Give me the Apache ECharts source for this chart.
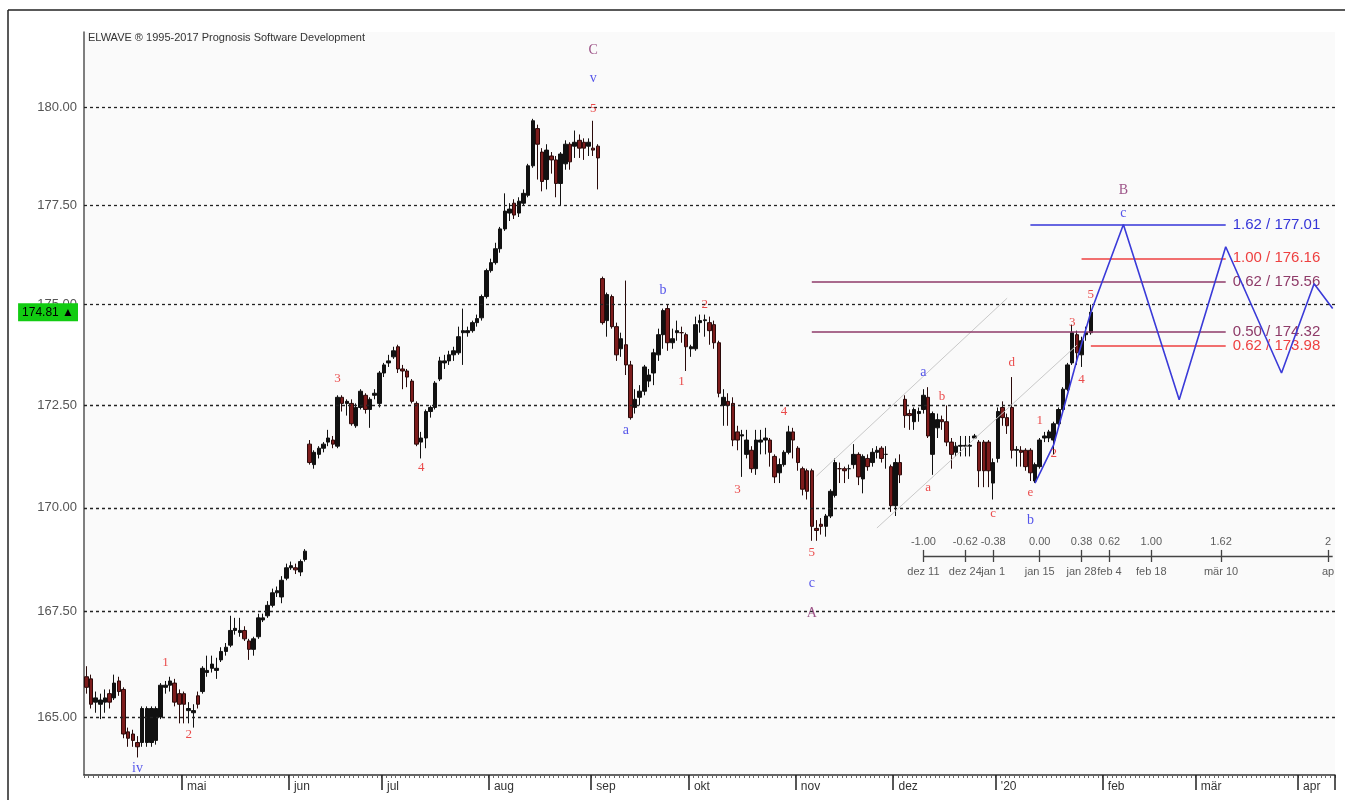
<!DOCTYPE html>
<html>
<head>
<meta charset="utf-8">
<script src="https://cdn.jsdelivr.net/npm/echarts@6/dist/echarts.min.js"></script>
<style>html,body{margin:0;padding:0;background:#fff}#c{width:1345px;height:800px}</style>
</head>
<body>
<div id="c"></div>
<script>
// ---- candles per month: [open, close, low, high] ----
const apr19 = [
[165.95,165.70,165.55,166.20],[165.90,165.30,165.20,166.00],[165.35,165.45,165.10,165.60],[165.30,165.40,164.95,165.55],
[165.35,165.45,165.10,165.65],[165.55,165.35,165.20,165.65],[165.45,165.80,165.40,166.00],[165.85,165.60,165.50,165.95],
[165.65,164.60,164.50,165.70],[164.65,164.50,164.30,164.75],[164.60,164.45,164.30,164.70],[164.40,164.30,164.05,164.55],
[164.40,165.20,164.30,165.25],[164.40,165.20,164.30,165.25],[164.40,165.20,164.30,165.25],[164.45,165.20,164.35,165.25],
[165.00,165.75,164.95,165.80],[165.70,165.75,165.55,165.85],[165.75,165.85,165.60,165.95],[165.80,165.35,165.25,165.90],
[165.55,165.30,164.85,165.65]];
const may19 = [
[165.55,165.30,164.85,165.60],[165.15,165.20,164.85,165.35],[165.10,165.15,164.75,165.30],[165.50,165.30,165.20,165.60],
[165.60,166.15,165.55,166.20],[166.05,166.10,165.95,166.45],[166.15,166.25,166.05,166.45],[166.10,166.15,165.90,166.40],
[166.35,166.55,166.30,166.65],[166.55,166.65,166.45,166.75],[166.70,167.05,166.65,167.40],[167.05,167.10,166.95,167.35],
[167.00,167.05,166.90,167.35],[167.05,166.85,166.80,167.15],[166.80,166.60,166.35,166.85],[166.60,166.85,166.45,166.90],
[166.90,167.35,166.85,167.45],[167.30,167.35,167.25,167.45],[167.40,167.65,167.35,167.75],[167.65,167.95,167.60,168.05],
[167.95,168.00,167.85,168.10],[167.85,168.25,167.70,168.35],[168.30,168.55,168.25,168.65]];
const jun19 = [
[168.55,168.60,168.50,168.70],[168.55,168.50,168.40,168.65],[168.45,168.70,168.35,168.75],[168.75,168.95,168.70,169.00],
[171.55,171.10,171.05,171.65],[171.05,171.35,170.95,171.40],[171.30,171.45,171.20,171.50],[171.45,171.55,171.35,171.60],
[171.60,171.70,171.50,171.90],[171.65,171.55,171.45,171.75],[171.50,172.70,171.45,172.75],[172.70,172.55,172.35,172.75],
[172.55,172.60,172.25,172.65],[172.55,172.05,172.00,172.65],[172.00,172.45,171.95,172.55],[172.45,172.85,172.40,172.90],
[172.75,172.40,172.30,172.80],[172.40,172.65,171.95,172.70],[172.75,172.80,172.65,172.90],[172.55,173.30,172.45,173.35]];
const jul19 = [
[173.30,173.50,173.20,173.55],[173.55,173.60,173.45,173.75],[173.70,173.85,173.65,173.95],[173.95,173.40,173.30,174.00],
[173.40,173.35,172.90,173.50],[173.35,173.20,172.95,173.40],[173.10,172.60,172.55,173.15],[172.55,171.55,171.50,172.60],
[171.60,171.70,171.20,171.85],[171.70,172.35,171.45,172.40],[172.35,172.45,172.20,172.50],[172.45,173.05,172.40,173.10],
[173.15,173.60,173.10,173.70],[173.55,173.60,173.40,173.75],[173.60,173.75,173.50,173.85],[173.75,173.85,173.60,173.95],
[173.80,174.20,173.75,174.45],[174.30,174.35,173.50,174.90],[174.30,174.35,174.20,174.45],[174.35,174.55,174.30,174.60],
[174.55,174.65,174.45,174.75],[174.67,175.20,174.60,175.25],[175.20,175.85,175.15,175.90]];
const aug19 = [
[175.85,176.05,175.80,176.15],[176.05,176.40,176.00,176.55],[176.40,176.90,176.30,176.95],[176.90,177.35,176.85,177.80],
[177.30,177.40,177.10,177.55],[177.55,177.25,177.15,177.65],[177.30,177.60,177.20,177.70],[177.55,177.80,177.50,177.90],
[177.75,178.50,177.70,178.55],[178.50,179.65,178.45,179.70],[179.45,179.05,178.15,179.55],[178.85,178.10,177.85,178.95],
[178.15,178.90,177.90,179.05],[178.75,178.65,178.30,178.85],[178.65,178.05,177.70,178.75],[178.05,178.80,177.50,178.85],
[178.55,179.05,178.40,179.15],[179.05,178.60,178.40,179.10],[179.00,179.10,178.70,179.40],[179.15,178.95,178.70,179.30],
[179.10,178.95,178.65,179.20],[179.00,179.10,178.75,179.20]];
const sep19 = [
[178.95,178.90,178.75,179.65],[179.00,178.70,177.90,179.05],[175.65,174.55,174.50,175.70],[174.60,175.25,174.20,175.30],
[175.20,174.45,174.40,175.25],[174.45,173.75,173.60,174.55],[173.90,174.15,173.70,174.30],[174.00,173.50,173.25,175.60],
[173.50,172.20,172.15,173.60],[172.45,172.65,172.30,172.90],[172.70,172.85,172.50,173.00],[172.85,173.45,172.75,173.50],
[173.10,173.25,172.95,173.40],[173.30,173.80,173.00,173.90],[173.75,174.25,173.60,174.40],[174.25,174.85,173.90,174.90],
[174.90,174.05,173.85,175.00],[174.05,174.15,173.90,174.40],[174.30,174.35,174.10,174.60],[174.30,174.30,174.05,174.45],
[174.25,173.95,173.35,174.30]];
const oct19 = [
[173.90,173.95,173.70,174.00],[173.90,174.50,173.85,174.70],[174.55,174.60,174.30,174.75],[174.60,174.62,174.20,174.75],
[174.55,174.35,174.00,174.70],[174.50,174.05,173.90,174.60],[174.05,172.80,172.70,174.10],[172.50,172.70,172.00,172.90],
[172.60,172.50,172.00,172.80],[172.55,171.65,171.50,172.70],[171.85,171.65,171.40,172.00],[171.75,171.78,170.75,171.90],
[171.30,171.65,171.20,171.90],[171.40,170.95,170.85,171.50],[170.95,171.65,170.80,171.90],[171.60,171.65,171.30,171.90],
[171.65,171.70,171.30,171.95],[171.65,171.35,171.00,171.70],[171.25,170.75,170.60,171.30],[170.85,171.05,170.60,171.20],
[171.05,171.35,171.00,171.40],[171.35,171.85,171.30,172.00],[171.85,171.65,171.20,171.95]];
const nov19 = [
[171.45,171.10,170.90,171.50],[170.95,170.45,170.30,171.00],[170.90,170.40,170.20,170.95],[170.90,169.55,169.20,170.95],
[169.50,169.45,169.20,169.70],[169.60,169.55,169.35,169.75],[169.55,169.80,169.30,169.85],[169.80,170.40,169.75,170.45],
[170.30,171.10,170.25,171.20],[170.95,170.95,170.60,171.10],[170.95,170.90,170.60,171.00],[170.95,170.95,170.70,171.05],
[171.05,171.30,170.95,171.55],[171.30,170.75,170.55,171.35],[170.70,171.25,170.35,171.30],[171.20,171.00,170.90,171.30],
[171.10,171.35,171.00,171.45],[171.35,171.40,171.20,171.50],[171.45,171.20,171.10,171.50],[171.30,171.30,170.95,171.50],
[171.00,170.05,169.90,171.05]];
const dec19 = [
[170.05,171.10,169.80,171.20],[171.10,170.80,170.60,171.30],[172.65,172.25,171.95,172.75],[172.30,172.25,171.90,172.40],
[172.10,172.40,171.90,172.45],[172.30,172.35,172.10,172.45],[172.40,172.75,172.30,172.90],[172.70,171.75,171.70,172.95],
[171.30,172.30,170.80,172.35],[171.95,172.15,171.70,172.30],[172.15,172.10,171.90,172.25],[172.10,171.60,171.50,172.50],
[171.60,171.30,170.95,171.70],[171.35,171.50,171.25,171.60],[171.50,171.52,171.25,171.75],[171.50,171.52,171.25,171.75],
[171.50,171.52,171.25,171.75],[171.70,171.75,171.70,171.80],[171.60,170.90,170.50,171.65],[171.60,170.90,170.50,171.65],
[171.60,170.90,170.50,171.65],[170.60,171.10,170.20,171.20]];
const jan20 = [
[171.20,172.35,171.10,172.45],[172.45,172.20,172.00,172.60],[172.20,172.00,171.80,172.30],[172.45,171.40,171.20,173.20],
[171.40,171.42,171.00,171.50],[171.40,171.35,171.00,171.50],[171.40,171.00,170.90,171.45],[171.40,170.85,170.65,171.45],
[170.65,171.05,170.60,171.10],[171.00,171.65,170.95,171.70],[171.70,171.75,171.60,171.85],[171.70,171.85,171.60,171.90],
[171.65,172.05,171.30,172.10],[172.05,172.40,172.00,172.45],[172.40,172.90,172.35,172.95],[172.90,173.50,172.85,173.55],
[173.55,174.30,173.50,174.50],[174.25,173.80,173.50,174.35],[173.75,174.10,173.45,174.20],[174.25,174.30,174.10,174.45],
[174.30,174.81,174.25,175.00]];

// ---- axis ----
const firstDay = '2019-04-02', lastDay = '2020-04-10';
const yTicks = [165, 167.5, 170, 172.5, 175, 177.5, 180];
const yMin = 163.64, yMax = 181.94;
const monthNames = ['jan','feb','mär','apr','mai','jun','jul','aug','sep','okt','nov','dez'];

// ---- Elliott wave labels: [index, price, text] ----
const redWaveLabels = [[17,166.28,'1'],[22,164.58,'2'],[54,173.17,'3'],[72,170.97,'4'],[109,179.97,'5'],
  [128,173.08,'1'],[133,175.01,'2'],[140,170.45,'3'],[150,172.34,'4'],[156,168.91,'5'],
  [181,170.48,'a'],[184,172.73,'b'],[195,169.87,'c'],[199,173.55,'d'],[203,170.38,'e'],
  [205,172.12,'1'],[208,171.33,'2'],[212,174.56,'3'],[214,173.13,'4'],[216,175.24,'5']];
const blueWaveLabels = [[11,163.80,'iv'],[109,180.75,'v'],[116,171.90,'a'],[124,175.36,'b'],[156,168.18,'c'],
  [180,173.32,'a'],[203,169.70,'b'],[223,177.30,'c']];
const purpleWaveLabels = [[109,181.47,'C'],[156,167.47,'A'],[223,177.88,'B']];

// ---- projection zigzag ----
const zigIdx   = [204, 208, 213, 216, 223, 235, 245, 257, 264, 268];
const zigPrice = [170.60, 171.53, 173.62, 174.81, 177.01, 172.64, 176.45, 173.30, 175.52, 174.90];

// ---- Fibonacci price levels ----
const fibRatio = [1.62, 1.00, 0.62, 0.50, 0.62];
const fibPrice = [177.01, 176.16, 175.56, 174.32, 173.98];
const fibStart = [203, 214, 156, 156, 216];
const fibEnd = 245;
const fibColor = ['#3535d8', '#ee4040', '#8e3a68', '#8e3a68', '#ee4040'];

// ---- channel lines: [[idx, price], [idx, price]] ----
const channels = [[[157,170.77],[198,175.16]], [[170,169.51],[213,173.99]]];

// ---- time Fibonacci ruler ----
const timeFibIdx = [180, 189, 195, 205, 214, 220, 229, 244, 267];
const timeFibRatio = ['-1.00','-0.62','-0.38','0.00','0.38','0.62','1.00','1.62','2'];
const timeFibDate = ['dez 11','dez 24','jan 1','jan 15','jan 28','feb 4','feb 18','mär 10','ap'];
const rulerPrice = 168.83, rulerTickLo = 168.69, rulerTickHi = 168.98, rulerTop = 169.17, rulerBottom = 168.45;

// ---------------- build ----------------
const cats = [];
{
  let d = new Date(firstDay + 'T00:00:00Z');
  const end = new Date(lastDay + 'T00:00:00Z');
  while (d <= end) {
    const wd = d.getUTCDay();
    if (wd !== 0 && wd !== 6) cats.push(d.toISOString().slice(0, 10));
    d = new Date(d.getTime() + 86400000);
  }
}
const candles = [].concat(apr19, may19, jun19, jul19, aug19, sep19, oct19, nov19, dec19, jan20);
const lastClose = candles[candles.length - 1][1];
const isMonthStart = (i) => i > 0 && cats[i].slice(5, 7) !== cats[i - 1].slice(5, 7);
const monthLabel = (v) => {
  const y = +v.slice(0, 4), m = +v.slice(5, 7);
  if (m === 1) return "'" + String(y).slice(2);
  return monthNames[m - 1];
};
const empty = cats.map(() => null);
const zig = cats.map(() => null);
zigIdx.forEach((ix, k) => { zig[ix] = zigPrice[k]; });

const sans = '"Liberation Sans", Arial, sans-serif';
const serif = '"Liberation Serif", "Times New Roman", serif';
const clear = 'rgba(0,0,0,0)';

function labelSeries(data, color, z, font, size) {
  return {
    type: 'scatter', data: data, symbol: 'circle', symbolSize: 1, z: z, silent: true,
    itemStyle: { color: clear, borderWidth: 0 },
    label: { show: true, position: 'inside', formatter: p => p.value[2], color: color,
             fontFamily: font, fontSize: size }
  };
}

const option = {
  animation: false,
  backgroundColor: '#ffffff',
  grid: { left: 84, right: 10, top: 32, bottom: 25, containLabel: false, outerBoundsMode: 'none',
          show: true, backgroundColor: '#fafafa', borderWidth: 0 },
  xAxis: [
    { type: 'category', data: cats, boundaryGap: true,
      axisLine: { show: true, lineStyle: { color: '#333', width: 1.5 } },
      axisTick: { show: true, interval: 0, length: 3, lineStyle: { color: '#666', width: 1 } },
      axisLabel: { show: false }, splitLine: { show: false } },
    { type: 'category', data: cats, boundaryGap: true, position: 'bottom', gridIndex: 0,
      axisLine: { show: false },
      axisTick: { show: true, interval: (i) => isMonthStart(i), length: 15, lineStyle: { color: '#222', width: 1.5 } },
      axisLabel: { show: true, interval: (i) => isMonthStart(i), formatter: monthLabel, align: 'left',
                   margin: 6, padding: [0, 0, 0, 3], color: '#333', fontFamily: sans, fontSize: 12 },
      splitLine: { show: false } }
  ],
  yAxis: { type: 'log', logBase: 10, min: yMin, max: yMax,
           axisLine: { show: true, lineStyle: { color: '#555', width: 1.5 } },
           axisTick: { show: false }, axisLabel: { show: false }, splitLine: { show: false } },
  graphic: [
    { type: 'line', shape: { x1: 8, y1: 10, x2: 1345, y2: 10 }, style: { stroke: '#222', lineWidth: 1.5 }, silent: true },
    { type: 'line', shape: { x1: 8, y1: 10, x2: 8, y2: 800 }, style: { stroke: '#222', lineWidth: 1.5 }, silent: true },
    { type: 'text', left: 88, top: 32, silent: true,
      style: { text: 'ELWAVE ® 1995-2017 Prognosis Software Development', fill: '#333', fontSize: 11, fontFamily: sans } }
  ],
  series: [
    // grid lines with price labels
    { type: 'line', data: empty, z: 1, silent: true, symbol: 'none',
      markLine: { silent: true, symbol: ['none', 'none'], animation: false,
        lineStyle: { color: '#222', type: [3, 3], width: 1.3 },
        label: { show: true, position: 'start', distance: 7, formatter: p => Number(p.value).toFixed(2),
                 color: '#555', fontFamily: sans, fontSize: 13 },
        data: yTicks.map(v => ({ yAxis: v })) } },
    // channel lines and time ruler
    { type: 'line', data: empty, z: 2, silent: true, symbol: 'none',
      markLine: { silent: true, symbol: ['none', 'none'], animation: false, label: { show: false },
        data: channels.map(c => [
          { coord: c[0], lineStyle: { color: '#c9c9c9', width: 1, type: 'solid' } },
          { coord: c[1] } ]).concat(
          [[ { coord: [timeFibIdx[0], rulerPrice], lineStyle: { color: '#444', width: 1.3, type: 'solid' } },
             { coord: [cats.length - 1, rulerPrice] } ]],
          timeFibIdx.map(ix => [
            { coord: [ix, rulerTickLo], lineStyle: { color: '#444', width: 1.3, type: 'solid' } },
            { coord: [ix, rulerTickHi] } ])
        ) } },
    // candles
    { type: 'candlestick', data: candles, xAxisIndex: 0, z: 3, barWidth: 4, silent: true,
      itemStyle: { color: '#111', color0: '#7d1c1c', borderColor: '#111', borderColor0: '#2a0a0a', borderWidth: 1 } },
    // fib levels
    { type: 'line', data: empty, z: 4, silent: true, symbol: 'none',
      markLine: { silent: true, symbol: ['none', 'none'], animation: false,
        data: fibPrice.map((p, k) => [
          { coord: [fibStart[k], p], lineStyle: { color: fibColor[k], width: 1.5, type: 'solid' },
            label: { show: true, position: 'end', distance: 7, color: fibColor[k], fontFamily: sans, fontSize: 15,
                     formatter: fibRatio[k].toFixed(2) + ' / ' + p.toFixed(2) } },
          { coord: [fibEnd, p] } ]) } },
    // projection zigzag
    { type: 'line', data: zig, connectNulls: true, z: 5, silent: true, symbol: 'none',
      lineStyle: { color: '#3a3ad8', width: 1.6 } },
    // wave labels
    labelSeries(redWaveLabels, '#e61e1e', 6, serif, 13),
    labelSeries(blueWaveLabels, '#2b2be6', 6, serif, 14),
    labelSeries(purpleWaveLabels, '#862a6c', 6, serif, 14),
    // time ruler texts
    labelSeries(timeFibIdx.map((ix, k) => [ix, rulerTop, timeFibRatio[k]]), '#333', 6, sans, 11),
    labelSeries(timeFibIdx.map((ix, k) => [ix, rulerBottom, timeFibDate[k]]), '#333', 6, sans, 11),
    // last price tag
    { type: 'line', data: empty, z: 10, silent: true, symbol: 'none',
      markLine: { silent: true, symbol: ['none', 'none'], animation: false, z: 10,
        lineStyle: { color: clear, width: 1 },
        label: { show: true, position: 'start', distance: 6, formatter: lastClose.toFixed(2) + ' ▲',
                 color: '#000', backgroundColor: '#12cc12', padding: [3, 4, 3, 4], fontFamily: sans, fontSize: 12 },
        data: [{ yAxis: lastClose }] } }
  ]
};

const chart = echarts.init(document.getElementById('c'), null, { renderer: 'canvas' });
chart.setOption(option);
</script>
</body>
</html>
